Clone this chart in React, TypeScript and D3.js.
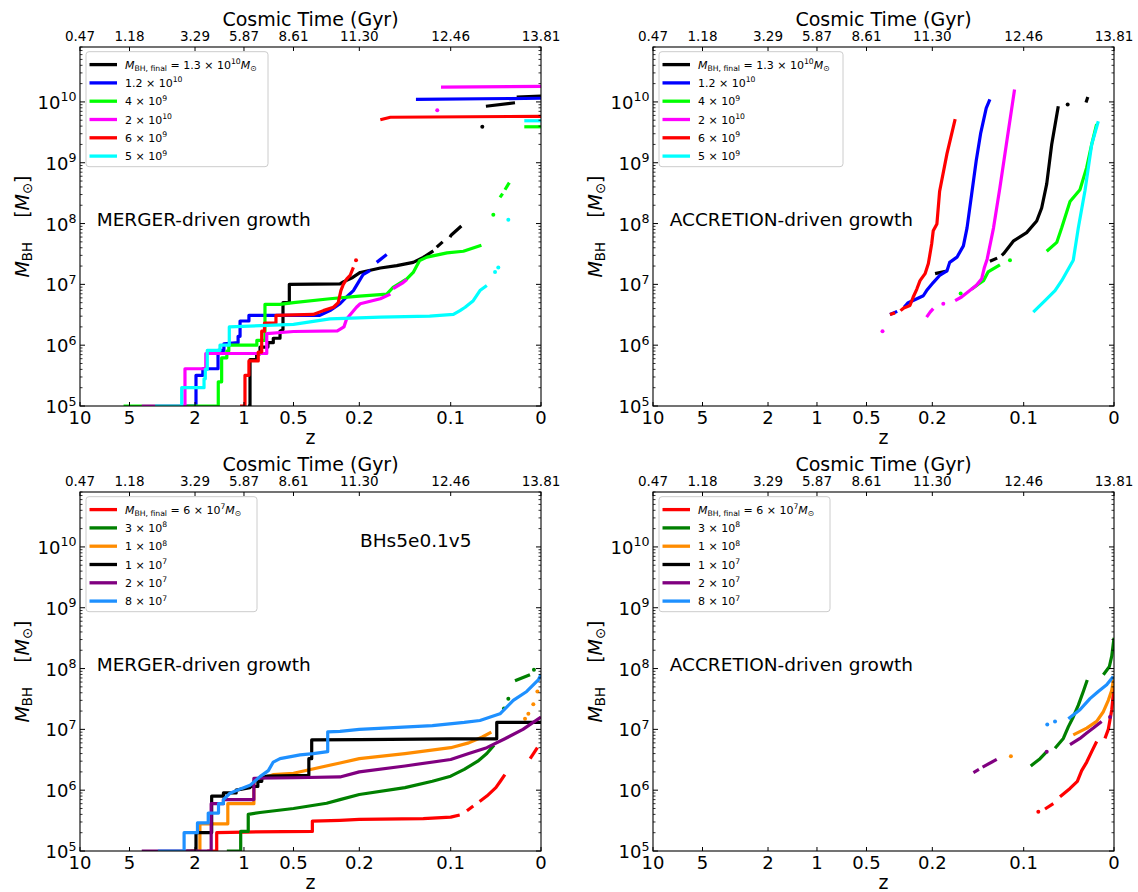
import React from "react";
import * as d3 from "d3";

type Pt = [number, number] | null;

// ---------- axes ----------
const zTicks = [10, 5, 2, 1, 0.5, 0.2, 0.1, 0];
const zTickLabels = ["10", "5", "2", "1", "0.5", "0.2", "0.1", "0"];
const timeTickLabels = ["0.47", "1.18", "3.29", "5.87", "8.61", "11.30", "12.46", "13.81"];
const tickFrac = [0, 0.1074, 0.2495, 0.3557, 0.4631, 0.6059, 0.8041, 1];
const yDomain = [1e5, 8e10];
const yMajorExp = [5, 6, 7, 8, 9, 10];

// ---------- legends ----------
const topColors = ["#000000", "#0000ff", "#00ff00", "#ff00ff", "#ff0000", "#00ffff"];
const topMant = ["1.3", "1.2", "4", "2", "6", "5"];
const topExp = ["10", "10", "9", "10", "9", "9"];
const botColors = ["#ff0000", "#008000", "#ff8c00", "#000000", "#800080", "#1e90ff"];
const botMant = ["6", "3", "1", "1", "2", "8"];
const botExp = ["7", "8", "8", "7", "7", "7"];

// ---------- TOP-LEFT: merger-driven (z, M) ----------
const tlBlack: Pt[] = [[0.96,1e5],[0.939,1e5],[0.939,5.8e5],[0.872,5.8e5],[0.872,7.2e5],[0.838,7.2e5],[0.838,9.3e5],[0.758,9.3e5],[0.758,1.1e6],[0.704,1.1e6],[0.704,1.3e6],[0.636,1.3e6],[0.636,1.7e6],[0.606,1.8e6],[0.606,5e6],[0.542,5e6],[0.542,1e7],[0.288,1.02e7],[0.273,1.1e7],[0.23,1.3e7],[0.199,1.57e7],[0.177,1.86e7],[0.159,2.03e7],[0.141,2.3e7],[0.13,2.77e7],[0.119,3.55e7],null,[0.1153,4.1e7],[0.1088,5e7],null,[0.1008,6e7],[0.0993,6.5e7],[0.0882,9.1e7],null,[0.065,3.9e9],null,[0.061,8.5e9],[0.0288,9.7e9],null,[0.0269,1.2e10],[0,1.25e10]];
const tlBlue: Pt[] = [[2.5,1e5],[1.98,1e5],[1.98,3.2e5],[1.84,3.2e5],[1.84,4.1e5],[1.53,4.1e5],[1.53,8.2e5],[1.41,8.2e5],[1.41,1.05e6],[1.12,1.1e6],[1.12,1.4e6],[1.08,1.4e6],[1.08,2.5e6],[0.95,2.5e6],[0.95,3.1e6],[0.38,3.1e6],[0.334,3.7e6],[0.288,4.8e6],[0.258,6.2e6],[0.227,7.9e6],[0.205,1.07e7],[0.196,1.44e7],[0.188,1.7e7],null,[0.181,2.3e7],[0.17,3.1e7],null,[0.138,1.1e10],[0,1.15e10]];
const tlGreen: Pt[] = [[5.6,1e5],[1.525,1e5],[1.525,2.5e5],[1.456,2.5e5],[1.456,6.2e5],[1.35,6.2e5],[1.35,8e5],[1.31,8e5],[1.31,1e6],[0.87,1e6],[0.87,1.2e6],[0.788,1.2e6],[0.788,4.7e6],[0.636,4.7e6],[0.5,5e6],[0.334,5.8e6],[0.2,6.4e6],[0.177,6.8e6],[0.17,6.9e6],[0.163,8.9e6],[0.148,1.23e7],[0.141,1.57e7],[0.134,2.46e7],[0.126,2.8e7],[0.104,3.3e7],[0.086,3.5e7],[0.066,4.4e7],null,[0.0528,1.4e8],null,[0.0454,2.7e8],[0.0425,3.1e8],null,[0.0399,3.6e8],[0.0351,4.7e8],null,[0.0185,3.9e9],[0,3.9e9]];
const tlMagenta: Pt[] = [[4.44,1e5],[2.46,1e5],[2.46,4.1e5],[1.78,4.1e5],[1.78,7.3e5],[0.77,7.3e5],[0.77,1.55e6],[0.5,1.68e6],[0.3,1.72e6],[0.27,2e6],[0.258,2.7e6],[0.213,4.2e6],[0.199,4.8e6],[0.177,5.8e6],[0.166,6.9e6],null,[0.163,8.5e6],[0.152,1.07e7],[0.148,1.2e7],null,[0.1147,7.3e9],null,[0.1106,1.75e10],[0,1.8e10]];
const tlRed: Pt[] = [[1.08,1e5],[0.99,1e5],[0.99,3.2e5],[0.95,3.2e5],[0.95,5.5e5],[0.856,5.5e5],[0.856,7.7e5],[0.821,7.7e5],[0.821,1.7e6],[0.793,1.7e6],[0.793,2.3e6],[0.677,2.3e6],[0.677,3.1e6],[0.41,3.2e6],[0.364,3.7e6],[0.318,4.2e6],[0.296,5e6],[0.284,7.9e6],[0.273,1e7],[0.257,1.23e7],[0.242,1.4e7],[0.227,1.9e7],null,[0.215,2.5e7],null,[0.177,5.1e9],[0.166,5.6e9],[0,5.8e9]];
const tlCyan: Pt[] = [[3.83,1e5],[2.61,1e5],[2.61,2e5],[1.816,2e5],[1.816,2.8e5],[1.79,2.8e5],[1.79,4e5],[1.75,4e5],[1.75,8.2e5],[1.49,8.2e5],[1.49,1e6],[1.3,1e6],[1.3,2e6],[0.5,2.2e6],[0.334,2.7e6],[0.177,2.9e6],[0.123,3e6],[0.097,3.2e6],[0.0897,3.7e6],[0.084,4.2e6],[0.075,5.4e6],[0.0676,7.9e6],[0.06,9.6e6],null,[0.0509,1.6e7],null,[0.0473,1.9e7],null,[0.0362,1.15e8],null,[0.0185,4.9e9],[0,4.9e9]];

// ---------- TOP-RIGHT: accretion-driven ----------
const trBlack: Pt[] = [[0.197,1.5e7],[0.184,1.66e7],null,[0.137,2.4e7],[0.129,2.7e7],null,[0.124,3e7],[0.122,3.2e7],[0.111,5.2e7],[0.0967,7.1e7],[0.0856,1.1e8],[0.0801,1.8e8],[0.0745,4.5e8],[0.069,2e9],[0.0617,8.5e9],null,[0.0513,9.1e9],null,[0.031,9.8e9],[0.029,1.2e10]];
const trBlue: Pt[] = [[0.393,3.2e6],[0.36,3.6e6],null,[0.329,4.2e6],[0.31,5e6],[0.28,5.6e6],[0.241,6.5e6],[0.226,7.9e6],[0.199,1.07e7],[0.192,1.4e7],[0.184,1.66e7],[0.181,2.3e7],[0.173,2.8e7],[0.166,4.3e7],[0.162,8.5e7],[0.157,3e8],[0.152,1.07e9],[0.147,3.1e9],[0.141,7.9e9],[0.137,1.1e10]];
const trGreen: Pt[] = [[0.169,7.1e6],null,[0.157,8.3e6],[0.15,1e7],[0.144,1.15e7],[0.139,1.6e7],[0.126,2.1e7],null,[0.115,2.5e7],null,[0.0745,3.5e7],[0.0634,4.9e7],[0.0579,8.5e7],[0.0487,2.3e8],[0.0377,3.6e8],[0.0303,8.3e8],[0.0247,2e9],[0.0192,4.3e9]];
const trMagenta: Pt[] = [[0.427,1.7e6],null,[0.226,2.9e6],[0.21,3.5e6],[0.199,4e6],null,[0.188,4.8e6],null,[0.175,5.4e6],[0.168,6.2e6],[0.159,7.9e6],[0.152,9.6e6],[0.146,1.23e7],[0.143,1.9e7],[0.14,2.6e7],[0.133,8.5e7],[0.126,3.9e8],[0.119,2e9],[0.11,1.6e10]];
const trRed: Pt[] = [[0.393,3.2e6],[0.37,3.4e6],null,[0.345,3.7e6],[0.33,4.1e6],[0.302,4.5e6],[0.287,6.2e6],[0.271,8.3e6],[0.256,1.15e7],[0.233,1.5e7],[0.218,2.2e7],[0.203,4.6e7],[0.199,7.6e7],[0.195,9.8e7],[0.192,3.4e8],[0.184,1.4e9],[0.175,5.2e9]];
const trCyan: Pt[] = [[0.0894,3.5e6],[0.0764,5.4e6],[0.0653,7.9e6],[0.0579,1.15e7],[0.0451,2.5e7],[0.0395,8.5e7],[0.0321,3.5e8],[0.0247,2e9],[0.0174,4.8e9]];

// ---------- BOTTOM-LEFT: merger-driven ----------
const blRed: Pt[] = [[1.75,1e5],[1.557,1e5],[1.557,2e5],[1.0,2.05e5],[0.414,2.1e5],[0.414,3.1e5],[0.288,3.2e5],[0.2,3.3e5],[0.13,3.4e5],[0.1,3.6e5],[0.09,3.9e5],null,[0.082,4.6e5],[0.075,5.5e5],null,[0.068,6.5e5],[0.06,8e5],[0.05,1.1e6],[0.045,1.4e6],[0.04,1.8e6],null,[0.012,3.3e6],[0.004,5e6]];
const blGreen: Pt[] = [[1.35,1e5],[1.067,1e5],[1.067,2.1e5],[0.957,2.1e5],[0.957,4e5],[0.838,4.3e5],[0.5,5e5],[0.349,6.1e5],[0.288,7e5],[0.2,8.5e5],[0.15,1.1e6],[0.12,1.4e6],[0.1,1.7e6],[0.085,2.2e6],[0.07,3e6],[0.06,4e6],[0.052,5.5e6],null,[0.041,2.2e7],null,[0.0362,3.2e7],null,[0.0288,6.3e7],[0.0122,7.9e7],null,[0.0078,9.6e7]];
const blOrange: Pt[] = [[2.2,1e5],[1.9,1e5],[1.9,2.8e5],[1.33,2.8e5],[1.33,6e5],[0.9,6e5],[0.9,1.4e6],[0.707,1.8e6],[0.5,1.9e6],[0.288,2.8e6],[0.2,3.3e6],[0.15,4e6],[0.1,5e6],[0.08,6e6],[0.065,7.5e6],[0.055,9e6],null,[0.0177,1.5e7],null,[0.014,1.8e7],null,[0.0085,2.6e7],null,[0.004,4.2e7]];
const blBlack: Pt[] = [[2.4,1e5],[1.98,1e5],[1.98,2e5],[1.66,2e5],[1.66,8e5],[1.42,8e5],[1.42,9e5],[1.16,9e5],[1.16,1e6],[0.94,1.1e6],[0.94,1.15e6],[0.86,1.15e6],[0.86,1.4e6],[0.82,1.4e6],[0.82,1.6e6],[0.77,1.7e6],[0.43,1.75e6],[0.43,3.3e6],[0.417,3.3e6],[0.417,6.7e6],[0.2,6.8e6],[0.1,7e6],[0.049,7e6],[0.049,1.3e7],[0,1.3e7]];
const blPurple: Pt[] = [[4.44,1e5],[1.67,1e5],[1.67,6e5],[1.42,6e5],[1.42,7e5],[0.9,7e5],[0.9,1.57e6],[0.5,1.6e6],[0.288,1.65e6],[0.2,2e6],[0.15,2.5e6],[0.1,3.2e6],[0.08,4e6],[0.06,5e6],[0.04,7e6],[0.02,1e7],[0,1.6e7]];
const blBlue: Pt[] = [[3.7,1e5],[2.5,1e5],[2.5,2e5],[1.95,2e5],[1.95,2.9e5],[1.73,2.9e5],[1.73,4.2e5],[1.52,4.2e5],[1.52,6e5],[1.42,6e5],[1.42,7e5],[1.286,8.9e5],[1.047,1.07e6],[0.939,1.2e6],[0.838,1.67e6],[0.754,2.1e6],[0.704,2.9e6],[0.636,3.3e6],[0.47,3.8e6],[0.41,4e6],[0.344,4.3e6],[0.344,9.1e6],[0.288,9.3e6],[0.2,1e7],[0.12,1.15e7],[0.085,1.3e7],[0.0676,1.4e7],[0.0454,1.8e7],[0.0307,3e7],[0.0158,4.2e7],[0.003,6.5e7],[0,8e7]];

// ---------- BOTTOM-RIGHT: accretion-driven ----------
const brRed: Pt[] = [[0.0838,4.4e5],null,[0.0764,4.9e5],[0.0672,6e5],null,[0.0598,7.8e5],[0.0487,1.07e6],[0.0406,1.4e6],[0.0358,2.1e6],[0.0302,2.9e6],[0.0247,4.3e6],[0.0192,6.3e6],null,[0.01,7.1e6],[0.0063,1e7],[0.0025,2.1e7],[0,5e7]];
const brGreen: Pt[] = [[0.0922,2.5e6],[0.0819,3.3e6],[0.0745,4.3e6],null,[0.0653,4.9e6],[0.0561,7.1e6],[0.0506,1.1e7],[0.0451,1.6e7],[0.0395,2.5e7],[0.034,4.2e7],[0.0296,6.5e7],null,[0.0118,7.9e7],[0.0052,1.07e8],[0.0025,1.6e8],[0,3.2e8]];
const brOrange: Pt[] = [[0.114,3.6e6],null,[0.0451,8.1e6],[0.0302,1.05e7],[0.0192,1.35e7],[0.0118,1.95e7],[0.0063,3e7],[0.0025,4.4e7],[0,7.4e7]];
const brBlack: Pt[] = [];
const brPurple: Pt[] = [[0.155,1.95e6],[0.149,2.2e6],null,[0.145,2.4e6],[0.1295,3.2e6],null,[0.0745,4.3e6],null,[0.0487,5.6e6],[0.0377,7.1e6],[0.0302,8.7e6],[0.0229,1.05e7],[0.0137,1.35e7],null,[0.0044,1.6e7]];
const brBlue: Pt[] = [[0.0739,1.2e7],null,[0.0653,1.35e7],null,[0.0506,1.5e7],[0.0377,2.1e7],[0.0266,3.2e7],[0.0174,4.2e7],[0.0081,5.4e7],[0.0008,7.4e7]];

// ---------- layout ----------
const PW = 461;
const PH = 359;
const FONT = "DejaVu Sans, Verdana, sans-serif";

interface PanelDef {
  x0: number;
  y0: number;
  series: Pt[][];
  colors: string[];
  mant: string[];
  exp: string[];
  legendW: number;
  label: string;
  extra?: string;
}

const panels: PanelDef[] = [
  { x0: 80, y0: 47, series: [tlBlack, tlBlue, tlGreen, tlMagenta, tlRed, tlCyan], colors: topColors, mant: topMant, exp: topExp, legendW: 182, label: "MERGER-driven growth" },
  { x0: 653, y0: 47, series: [trBlack, trBlue, trGreen, trMagenta, trRed, trCyan], colors: topColors, mant: topMant, exp: topExp, legendW: 184, label: "ACCRETION-driven growth" },
  { x0: 80, y0: 492, series: [blRed, blGreen, blOrange, blBlack, blPurple, blBlue], colors: botColors, mant: botMant, exp: botExp, legendW: 171, label: "MERGER-driven growth", extra: "BHs5e0.1v5" },
  { x0: 653, y0: 492, series: [brRed, brGreen, brOrange, brBlack, brPurple, brBlue], colors: botColors, mant: botMant, exp: botExp, legendW: 171, label: "ACCRETION-driven growth" },
];

function splitSegments(data: Pt[]): [number, number][][] {
  const out: [number, number][][] = [];
  let cur: [number, number][] = [];
  for (const d of data) {
    if (d === null) {
      if (cur.length) out.push(cur);
      cur = [];
    } else cur.push(d);
  }
  if (cur.length) out.push(cur);
  return out;
}

function Panel({ p }: { p: PanelDef }) {
  const x1 = p.x0 + PW;
  const y1 = p.y0 + PH;
  const xs = d3.scaleLinear().domain(zTicks).range(tickFrac.map((f) => p.x0 + f * PW));
  const ys = d3.scaleLog().domain(yDomain).range([y1, p.y0]);
  const line = d3
    .line<[number, number]>()
    .x((d) => xs(d[0]))
    .y((d) => ys(d[1]));

  const minor: number[] = [];
  for (let e = 5; e <= 10; e++) {
    for (let m = 2; m <= 9; m++) {
      const v = m * Math.pow(10, e);
      if (v <= yDomain[1]) minor.push(v);
    }
  }
  const xm = (p.x0 + x1) / 2;
  const ym = (p.y0 + y1) / 2;
  const lx = p.x0 + 6;
  const ly = p.y0 + 4.7;

  return (
    <g>
      <defs>
        <clipPath id={`clip${p.x0}_${p.y0}`}>
          <rect x={p.x0} y={p.y0} width={PW} height={PH} />
        </clipPath>
      </defs>
      {/* series */}
      <g clipPath={`url(#clip${p.x0}_${p.y0})`}>
        {p.series.map((s, i) =>
          splitSegments(s).map((seg, j) =>
            seg.length === 1 ? (
              <circle key={`${i}-${j}`} cx={xs(seg[0][0])} cy={ys(seg[0][1])} r={2} fill={p.colors[i]} />
            ) : (
              <path
                key={`${i}-${j}`}
                d={line(seg) || ""}
                fill="none"
                stroke={p.colors[i]}
                strokeWidth={3.2}
                strokeLinejoin="round"
                strokeLinecap="butt"
              />
            )
          )
        )}
      </g>
      {/* frame */}
      <rect x={p.x0} y={p.y0} width={PW} height={PH} fill="none" stroke="#000" strokeWidth={1.1} />
      {/* y ticks */}
      {yMajorExp.map((e) => {
        const y = ys(Math.pow(10, e));
        return (
          <g key={`ym${e}`}>
            <line x1={p.x0} x2={p.x0 + 5} y1={y} y2={y} stroke="#000" strokeWidth={1} />
            <line x1={x1 - 5} x2={x1} y1={y} y2={y} stroke="#000" strokeWidth={1} />
            <text x={p.x0 - 3.5} y={y + 7} textAnchor="end" fontSize={18} fontFamily={FONT}>
              10
              <tspan fontSize={12.6} dy={-7.5}>
                {String(e)}
              </tspan>
            </text>
          </g>
        );
      })}
      {minor.map((v, i) => {
        const y = ys(v);
        return (
          <g key={`yn${i}`}>
            <line x1={p.x0} x2={p.x0 + 2.5} y1={y} y2={y} stroke="#000" strokeWidth={0.8} />
            <line x1={x1 - 2.5} x2={x1} y1={y} y2={y} stroke="#000" strokeWidth={0.8} />
          </g>
        );
      })}
      {/* x ticks */}
      {zTicks.map((z, i) => {
        const x = xs(z);
        return (
          <g key={`xt${i}`}>
            <line x1={x} x2={x} y1={y1} y2={y1 - 4} stroke="#000" strokeWidth={1} />
            <line x1={x} x2={x} y1={p.y0} y2={p.y0 + 4} stroke="#000" strokeWidth={1} />
            <text x={x} y={y1 + 18} textAnchor="middle" fontSize={18} fontFamily={FONT}>
              {zTickLabels[i]}
            </text>
            <text x={x} y={p.y0 - 6} textAnchor="middle" fontSize={13.5} fontFamily={FONT}>
              {timeTickLabels[i]}
            </text>
          </g>
        );
      })}
      <text x={xm} y={p.y0 - 21.5} textAnchor="middle" fontSize={19} fontFamily={FONT}>
        Cosmic Time (Gyr)
      </text>
      <text x={xm} y={y1 + 37.5} textAnchor="middle" fontSize={19} fontFamily={FONT}>
        z
      </text>
      <text
        transform={`translate(${p.x0 - 51.5},${ym}) rotate(-90)`}
        textAnchor="middle"
        fontSize={19}
        fontFamily={FONT}
      >
        <tspan fontStyle="italic">M</tspan>
        <tspan fontSize={13.3} dy={3.5}>BH</tspan>
        <tspan dy={-3.5}>{"\u00a0\u00a0\u00a0\u00a0["}</tspan>
        <tspan fontStyle="italic">M</tspan>
        <tspan fontSize={13.3} dy={3.5}>{"\u2299"}</tspan>
        <tspan dy={-3.5}>]</tspan>
      </text>
      {/* annotations */}
      <text x={p.x0 + 16.7} y={p.y0 + 178.7} fontSize={18.5} fontFamily={FONT}>
        {p.label}
      </text>
      {p.extra ? (
        <text x={p.x0 + 280} y={p.y0 + 55.3} fontSize={18.5} fontFamily={FONT}>
          {p.extra}
        </text>
      ) : null}
      {/* legend */}
      <rect x={lx} y={ly} width={p.legendW} height={115} rx={3} fill="#fff" fillOpacity={0.8} stroke="#cccccc" strokeWidth={1} />
      {p.colors.map((c, i) => {
        const yy = p.y0 + 17.6 + i * 18.3;
        return (
          <g key={`lg${i}`}>
            <line x1={p.x0 + 9.5} x2={p.x0 + 37} y1={yy} y2={yy} stroke={c} strokeWidth={3.3} />
            <text x={p.x0 + 45} y={yy + 4} fontSize={11} fontFamily={FONT}>
              {i === 0 ? (
                <>
                  <tspan fontStyle="italic">M</tspan>
                  <tspan fontSize={7.7} dy={2.5}>BH, final</tspan>
                  <tspan dy={-2.5}>{` = ${p.mant[i]} \u00d7 10`}</tspan>
                  <tspan fontSize={7.7} dy={-4.5}>{p.exp[i]}</tspan>
                  <tspan dy={4.5} fontStyle="italic">M</tspan>
                  <tspan fontSize={7.7} dy={2.5}>{"\u2299"}</tspan>
                </>
              ) : (
                <>
                  <tspan>{`${p.mant[i]} \u00d7 10`}</tspan>
                  <tspan fontSize={7.7} dy={-4.5}>{p.exp[i]}</tspan>
                </>
              )}
            </text>
          </g>
        );
      })}
    </g>
  );
}

export default function App() {
  return (
    <svg
      width={1138}
      height={892}
      style={{ position: "absolute", left: 0, top: 0, background: "#fff" }}
    >
      <rect x={0} y={0} width={1138} height={892} fill="#fff" />
      {panels.map((p, i) => (
        <Panel key={i} p={p} />
      ))}
    </svg>
  );
}
